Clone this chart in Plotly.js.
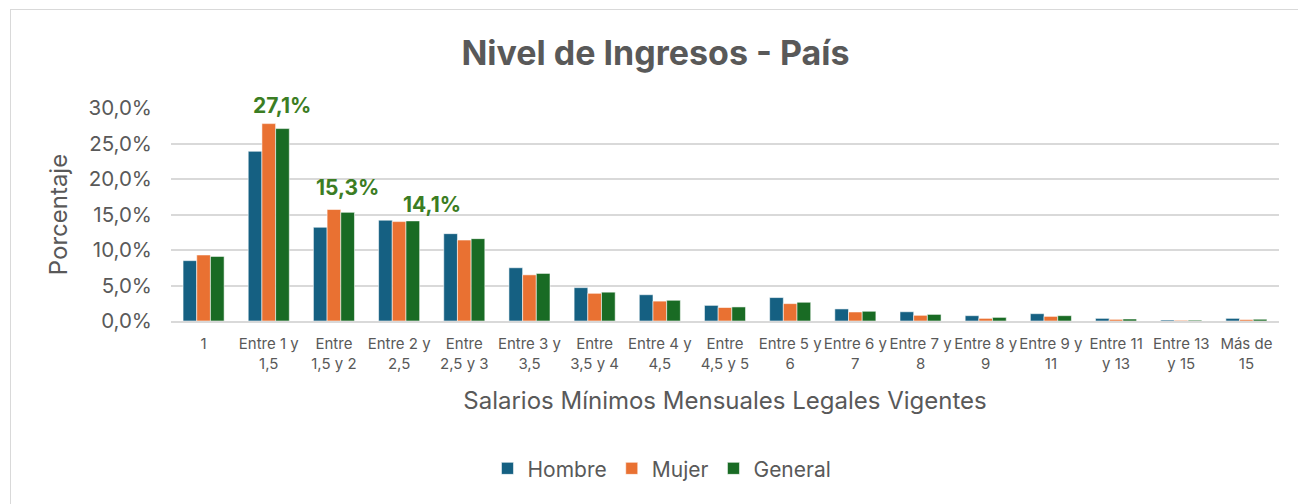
<!DOCTYPE html>
<html>
<head>
<meta charset="utf-8">
<script src="https://cdn.plot.ly/plotly-3.0.1.min.js"></script>
<style>
  html, body { margin: 0; padding: 0; background: #ffffff; }
  #wrap { position: relative; width: 1298px; height: 504px; overflow: hidden; }
  #chart { position: absolute; left: 0; top: 0; width: 1298px; height: 504px; }
  #frame { position: absolute; left: 10px; top: 9px; width: 1400px; height: 600px;
           border: 1px solid #d9d9d9; pointer-events: none; }
</style>
</head>
<body>
<div id="wrap">
  <div id="chart"></div>
  <div id="frame"></div>
</div>
<script>
// ---- data ----
const categories = [
  "1", "Entre 1 y<br>1,5", "Entre<br>1,5 y 2", "Entre 2 y<br>2,5", "Entre<br>2,5 y 3",
  "Entre 3 y<br>3,5", "Entre<br>3,5 y 4", "Entre 4 y<br>4,5", "Entre<br>4,5 y 5",
  "Entre 5 y<br>6", "Entre 6 y<br>7", "Entre 7 y<br>8", "Entre 8 y<br>9",
  "Entre 9 y<br>11", "Entre 11<br>y 13", "Entre 13<br>y 15", "Más de<br>15"
];
const hombre  = [8.5, 23.9, 13.2, 14.2, 12.3, 7.5, 4.7, 3.7, 2.2, 3.3, 1.7, 1.3, 0.75, 1.03, 0.37, 0.14, 0.37];
const mujer   = [9.3, 27.8, 15.7, 14.0, 11.4, 6.5, 3.9, 2.8, 1.9, 2.45, 1.27, 0.8, 0.37, 0.65, 0.23, 0.1, 0.2];
const general = [9.1, 27.1, 15.3, 14.1, 11.6, 6.7, 4.06, 2.92, 1.98, 2.64, 1.37, 0.93, 0.51, 0.75, 0.28, 0.12, 0.25];
const labelIdx = [1, 2, 3];
const labelText = ["27,1%", "15,3%", "14,1%"];
const yTickVals = [0, 5, 10, 15, 20, 25, 30];
const yTickText = ["0,0%", "5,0%", "10,0%", "15,0%", "20,0%", "25,0%", "30,0%"];

// ---- style ----
const FONT = "Inter, 'Open Sans', sans-serif";
const GREY = "#595959";
const labelXShift = [0, 0, 19];
const labelYShift = [23, 25, 16];

const barLine = { color: "rgba(255,255,255,0.55)", width: 1 };
const traces = [
  { type: "bar", name: "Hombre", x: categories, y: hombre, marker: { color: "#156082", line: barLine } },
  { type: "bar", name: "Mujer", x: categories, y: mujer, marker: { color: "#e97132", line: barLine } },
  { type: "bar", name: "General", x: categories, y: general, marker: { color: "#196b24", line: barLine } }
];

const annotations = labelIdx.map((i, k) => ({
  x: categories[i], y: general[i], xref: "x", yref: "y",
  text: "<b>" + labelText[k] + "</b>", showarrow: false,
  xshift: 13.7 + labelXShift[k], yshift: labelYShift[k],
  font: { family: FONT, size: 21, color: "#3b7d23" }
}));

const layout = {
  width: 1298, height: 504,
  margin: { l: 171, r: 19, t: 108, b: 183 },
  paper_bgcolor: "#ffffff", plot_bgcolor: "#ffffff",
  barmode: "group", bargap: 0.37, bargroupgap: 0,
  title: {
    text: "<b>Nivel de Ingresos - País</b>",
    font: { family: FONT, size: 34, color: GREY },
    x: 0.505, xanchor: "center", y: 0.895, yanchor: "middle"
  },
  xaxis: {
    type: "category", tickangle: 0,
    tickfont: { family: FONT, size: 15, color: GREY },
    ticks: "", showline: true, linecolor: "#d9d9d9", linewidth: 2,
    ticklabelstandoff: 8,
    title: { text: "Salarios Mínimos Mensuales Legales Vigentes",
             font: { family: FONT, size: 24, color: GREY }, standoff: 21 }
  },
  yaxis: {
    range: [0, 30], tickvals: yTickVals, ticktext: yTickText,
    tickfont: { family: FONT, size: 20.5, color: GREY },
    gridcolor: "#d9d9d9", gridwidth: 2, zeroline: false, ticks: "",
    ticklabelstandoff: 18,
    title: { text: "Porcentaje", font: { family: FONT, size: 24, color: GREY }, standoff: 14 }
  },
  legend: {
    orientation: "h", xref: "container", yref: "container",
    x: 0.51, xanchor: "center", y: 0.07, yanchor: "middle",
    font: { family: FONT, size: 21, color: GREY },
    itemwidth: 30, traceorder: "normal"
  },
  annotations: annotations
};

Plotly.newPlot("chart", traces, layout, { displayModeBar: false, staticPlot: true });
</script>
</body>
</html>
